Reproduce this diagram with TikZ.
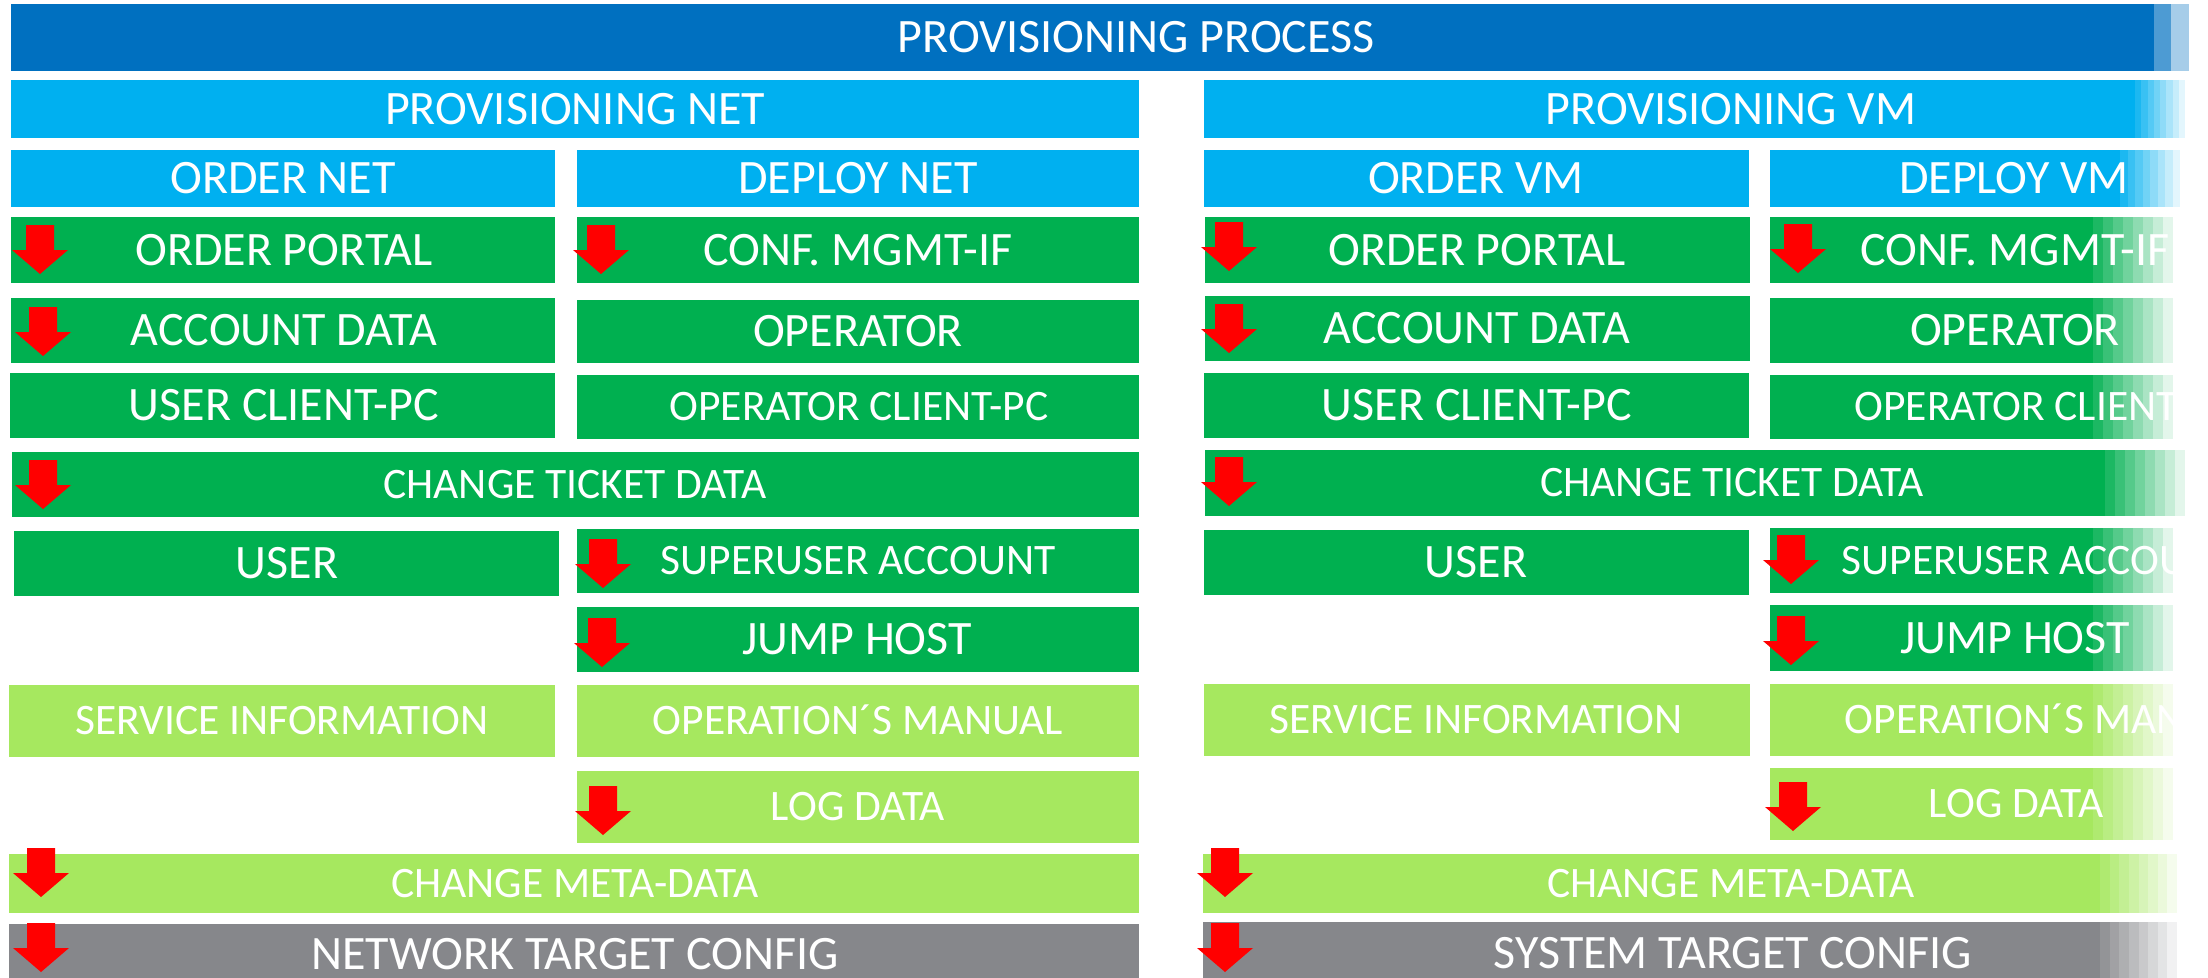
\documentclass[tikz,border=0pt]{standalone}
\usepackage{fontspec}
\setmainfont{Carlito}
\usetikzlibrary{positioning}

\definecolor{darkblue}{HTML}{0070C0}
\definecolor{lightblue}{HTML}{00B0F0}
\definecolor{darkgreen}{HTML}{00B050}
\definecolor{lightgreen}{HTML}{A6E85F}
\definecolor{configgray}{HTML}{86878B}

\tikzset{
  bigtext/.style={text=white, inner sep=0pt, font=\fontsize{48}{52}\selectfont, text height=30pt, text depth=0pt},
  smalltext/.style={text=white, inner sep=0pt, font=\fontsize{43.5}{47}\selectfont, text height=27.5pt, text depth=0pt},
  redarrow/.pic={\fill[red] (-14,0) -- (14,0) -- (14,25) -- (28,25) -- (0,49) -- (-28,25) -- (-14,25) -- cycle;}
}

% filled box with its label: name, colour, x1, y1, x2, y2, text x, text style, text
\newcommand{\labelbox}[9]{%
  \fill[#2] (#3,#4) rectangle (#5,#6);
  \node[#8] (#1) at (#7,{(#4+#6)/2}) {#9};
}

% stepped fade to white: x start, x end, y1, y2
\newcommand{\fadeout}[4]{%
  \foreach \k [evaluate=\k as \op using \k/9] in {1,...,8} {
    \fill[white, opacity=\op] ({#1+(\k-1)*(#2-#1)/8},#3) rectangle ({#1+\k*(#2-#1)/8},#4);
  }
}

\begin{document}
\begin{tikzpicture}[x=1pt, y=-1pt]

        \clip (0,0) rectangle (2208,977);

        % Header rows
        \labelbox{title}{darkblue}{11}{4}{2189}{71}{1136}{bigtext}{PROVISIONING PROCESS}
        \labelbox{provnet}{lightblue}{11}{80}{1139}{138}{575}{bigtext}{PROVISIONING NET}
        \labelbox{provvm}{lightblue}{1204}{80}{2185}{138}{1731}{bigtext}{PROVISIONING VM}
        \labelbox{ordernet}{lightblue}{11}{150}{555}{207}{283}{bigtext}{ORDER NET}
        \labelbox{deploynet}{lightblue}{577}{150}{1139}{207}{858}{bigtext}{DEPLOY NET}
        \labelbox{ordervm}{lightblue}{1204}{150}{1749}{207}{1476}{bigtext}{ORDER VM}
        \labelbox{deployvm}{lightblue}{1770}{150}{2180}{207}{2014}{bigtext}{DEPLOY VM}

        % Network side
        \labelbox{portalnet}{darkgreen}{11}{217}{555}{283}{284}{bigtext}{ORDER PORTAL}
        \labelbox{confnet}{darkgreen}{577}{217}{1139}{283}{858}{bigtext}{CONF. MGMT-IF}
        \labelbox{accountnet}{darkgreen}{11}{298}{555}{363}{284}{bigtext}{ACCOUNT DATA}
        \labelbox{operatornet}{darkgreen}{577}{300}{1139}{363}{858}{bigtext}{OPERATOR}
        \labelbox{clientnet}{darkgreen}{10}{373}{555}{438}{284}{bigtext}{USER CLIENT-PC}
        \labelbox{opclientnet}{darkgreen}{577}{375}{1139}{439}{859}{smalltext}{OPERATOR CLIENT-PC}
        \labelbox{ticketnet}{darkgreen}{12}{452}{1139}{517}{575}{smalltext}{CHANGE TICKET DATA}
        \labelbox{usernet}{darkgreen}{14}{531}{559}{596}{287}{bigtext}{USER}
        \labelbox{superusernet}{darkgreen}{577}{529}{1139}{593}{858}{smalltext}{SUPERUSER ACCOUNT}
        \labelbox{jumpnet}{darkgreen}{577}{607}{1139}{672}{857}{bigtext}{JUMP HOST}
        \labelbox{servicenet}{lightgreen}{9}{685}{555}{757}{282}{smalltext}{SERVICE INFORMATION}
        \labelbox{manualnet}{lightgreen}{577}{685}{1139}{757}{858}{smalltext}{OPERATION´S MANUAL}
        \labelbox{lognet}{lightgreen}{577}{771}{1139}{843}{858}{smalltext}{LOG DATA}
        \labelbox{metanet}{lightgreen}{9}{854}{1139}{913}{575}{smalltext}{CHANGE META-DATA}
        \labelbox{targetnet}{configgray}{9}{924}{1139}{984}{575}{bigtext}{NETWORK TARGET CONFIG}

        % VM side
        \labelbox{portalvm}{darkgreen}{1205}{217}{1750}{283}{1477}{bigtext}{ORDER PORTAL}
        \labelbox{confvm}{darkgreen}{1770}{217}{2173}{283}{2015}{bigtext}{CONF. MGMT-IF}
        \labelbox{accountvm}{darkgreen}{1205}{296}{1750}{361}{1477}{bigtext}{ACCOUNT DATA}
        \labelbox{operatorvm}{darkgreen}{1770}{298}{2173}{363}{2015}{bigtext}{OPERATOR}
        \labelbox{clientvm}{darkgreen}{1204}{373}{1749}{438}{1477}{bigtext}{USER CLIENT-PC}
        \labelbox{opclientvm}{darkgreen}{1770}{375}{2173}{439}{2044}{smalltext}{OPERATOR CLIENT-PC}
        \labelbox{ticketvm}{darkgreen}{1205}{450}{2185}{516}{1732}{smalltext}{CHANGE TICKET DATA}
        \labelbox{uservm}{darkgreen}{1204}{530}{1749}{595}{1476}{bigtext}{USER}
        \labelbox{superuservm}{darkgreen}{1770}{528}{2173}{593}{2039}{smalltext}{SUPERUSER ACCOUNT}
        \labelbox{jumpvm}{darkgreen}{1770}{605}{2173}{671}{2015}{bigtext}{JUMP HOST}
        \labelbox{servicevm}{lightgreen}{1204}{684}{1750}{756}{1476}{smalltext}{SERVICE INFORMATION}
        \labelbox{manualvm}{lightgreen}{1770}{684}{2173}{756}{2050}{smalltext}{OPERATION´S MANUAL}
        \labelbox{logvm}{lightgreen}{1770}{768}{2173}{840}{2016}{smalltext}{LOG DATA}
        \labelbox{metavm}{lightgreen}{1203}{854}{2177}{913}{1731}{smalltext}{CHANGE META-DATA}
        \labelbox{targetvm}{configgray}{1203}{922}{2177}{984}{1733}{bigtext}{SYSTEM TARGET CONFIG}

        % Red arrows (centre x / top y)
        \foreach \ax/\ay in {40/225, 43/307, 43/460, 41/848, 41/923,
                             601/225, 603/539, 602/618, 603/786,
                             1229/222, 1229/304, 1229/457, 1225/848, 1225/923,
                             1798/224, 1791/535, 1791/616, 1793/782} {
          \pic at (\ax,\ay) {redarrow};
        }

        % Right edge fades out
        \fill[white, opacity=0.3] (2154,4) rectangle (2171,71);
        \fill[white, opacity=0.65] (2171,4) rectangle (2189,71);
        \fadeout{2135}{2185}{80}{138}
        \fadeout{2120}{2180}{150}{207}
        \foreach \ya/\yb in {217/283, 298/363, 375/439, 528/593, 605/671, 684/756, 768/840} {
          \fadeout{2093}{2173}{\ya}{\yb}
        }
        \fadeout{2105}{2185}{450}{516}
        \fadeout{2100}{2177}{854}{913}
        \fadeout{2100}{2177}{922}{984}

      \end{tikzpicture}
\end{document}
